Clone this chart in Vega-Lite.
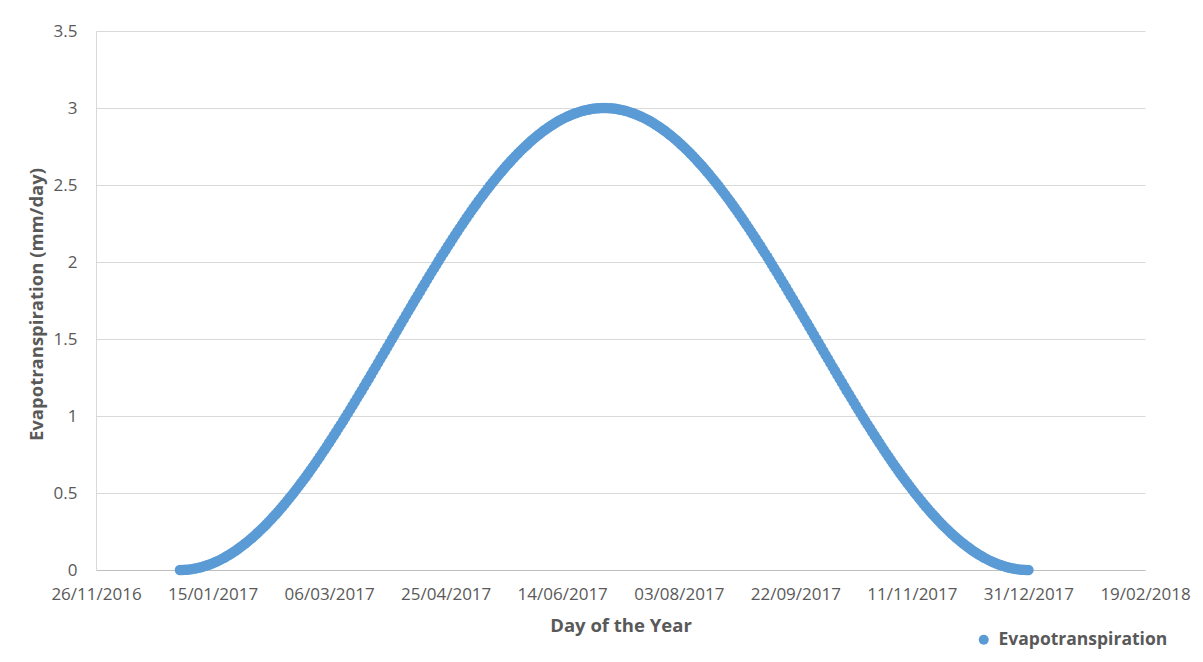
{
  "$schema": "https://vega.github.io/schema/vega-lite/v6.json",
  "width": 1049,
  "height": 539,
  "autosize": "none",
  "padding": {"left": 96, "top": 31, "right": 58, "bottom": 92},
  "background": "#FFFFFF",
  "config": {
    "view": {"stroke": null},
    "font": "Open Sans",
    "axis": {
      "labelFont": "Open Sans",
      "labelFontSize": 17,
      "labelColor": "#595959",
      "titleFont": "Open Sans",
      "titleFontSize": 18.5,
      "titleFontWeight": "bold",
      "titleColor": "#595959",
      "ticks": false,
      "tickSize": 0
    },
    "legend": {
      "labelFont": "Open Sans",
      "labelFontSize": 17.5,
      "labelFontWeight": "bold",
      "labelColor": "#595959",
      "labelLimit": 0
    }
  },
  "data": {
    "values": [
      {"date": "2017-01-01", "et": 0},
      {"date": "2017-01-03", "et": 0.001},
      {"date": "2017-01-05", "et": 0.004},
      {"date": "2017-01-07", "et": 0.008},
      {"date": "2017-01-09", "et": 0.014},
      {"date": "2017-01-11", "et": 0.022},
      {"date": "2017-01-13", "et": 0.032},
      {"date": "2017-01-15", "et": 0.044},
      {"date": "2017-01-17", "et": 0.057},
      {"date": "2017-01-19", "et": 0.072},
      {"date": "2017-01-21", "et": 0.089},
      {"date": "2017-01-23", "et": 0.107},
      {"date": "2017-01-25", "et": 0.127},
      {"date": "2017-01-27", "et": 0.149},
      {"date": "2017-01-29", "et": 0.172},
      {"date": "2017-01-31", "et": 0.197},
      {"date": "2017-02-02", "et": 0.223},
      {"date": "2017-02-04", "et": 0.251},
      {"date": "2017-02-06", "et": 0.280},
      {"date": "2017-02-08", "et": 0.311},
      {"date": "2017-02-10", "et": 0.344},
      {"date": "2017-02-12", "et": 0.377},
      {"date": "2017-02-14", "et": 0.412},
      {"date": "2017-02-16", "et": 0.449},
      {"date": "2017-02-18", "et": 0.486},
      {"date": "2017-02-20", "et": 0.525},
      {"date": "2017-02-22", "et": 0.565},
      {"date": "2017-02-24", "et": 0.606},
      {"date": "2017-02-26", "et": 0.648},
      {"date": "2017-02-28", "et": 0.691},
      {"date": "2017-03-02", "et": 0.735},
      {"date": "2017-03-04", "et": 0.780},
      {"date": "2017-03-06", "et": 0.826},
      {"date": "2017-03-08", "et": 0.873},
      {"date": "2017-03-10", "et": 0.920},
      {"date": "2017-03-12", "et": 0.968},
      {"date": "2017-03-14", "et": 1.017},
      {"date": "2017-03-16", "et": 1.066},
      {"date": "2017-03-18", "et": 1.116},
      {"date": "2017-03-20", "et": 1.166},
      {"date": "2017-03-22", "et": 1.217},
      {"date": "2017-03-24", "et": 1.268},
      {"date": "2017-03-26", "et": 1.319},
      {"date": "2017-03-28", "et": 1.371},
      {"date": "2017-03-30", "et": 1.422},
      {"date": "2017-04-01", "et": 1.474},
      {"date": "2017-04-03", "et": 1.526},
      {"date": "2017-04-05", "et": 1.578},
      {"date": "2017-04-07", "et": 1.629},
      {"date": "2017-04-09", "et": 1.681},
      {"date": "2017-04-11", "et": 1.732},
      {"date": "2017-04-13", "et": 1.783},
      {"date": "2017-04-15", "et": 1.834},
      {"date": "2017-04-17", "et": 1.884},
      {"date": "2017-04-19", "et": 1.934},
      {"date": "2017-04-21", "et": 1.983},
      {"date": "2017-04-23", "et": 2.032},
      {"date": "2017-04-25", "et": 2.080},
      {"date": "2017-04-27", "et": 2.127},
      {"date": "2017-04-29", "et": 2.174},
      {"date": "2017-05-01", "et": 2.220},
      {"date": "2017-05-03", "et": 2.265},
      {"date": "2017-05-05", "et": 2.309},
      {"date": "2017-05-07", "et": 2.352},
      {"date": "2017-05-09", "et": 2.394},
      {"date": "2017-05-11", "et": 2.435},
      {"date": "2017-05-13", "et": 2.475},
      {"date": "2017-05-15", "et": 2.514},
      {"date": "2017-05-17", "et": 2.551},
      {"date": "2017-05-19", "et": 2.588},
      {"date": "2017-05-21", "et": 2.623},
      {"date": "2017-05-23", "et": 2.656},
      {"date": "2017-05-25", "et": 2.689},
      {"date": "2017-05-27", "et": 2.720},
      {"date": "2017-05-29", "et": 2.749},
      {"date": "2017-05-31", "et": 2.777},
      {"date": "2017-06-02", "et": 2.803},
      {"date": "2017-06-04", "et": 2.828},
      {"date": "2017-06-06", "et": 2.852},
      {"date": "2017-06-08", "et": 2.873},
      {"date": "2017-06-10", "et": 2.893},
      {"date": "2017-06-12", "et": 2.912},
      {"date": "2017-06-14", "et": 2.928},
      {"date": "2017-06-16", "et": 2.943},
      {"date": "2017-06-18", "et": 2.956},
      {"date": "2017-06-20", "et": 2.968},
      {"date": "2017-06-22", "et": 2.978},
      {"date": "2017-06-24", "et": 2.986},
      {"date": "2017-06-26", "et": 2.992},
      {"date": "2017-06-28", "et": 2.996},
      {"date": "2017-06-30", "et": 2.999},
      {"date": "2017-07-02", "et": 3.000},
      {"date": "2017-07-04", "et": 2.999},
      {"date": "2017-07-06", "et": 2.996},
      {"date": "2017-07-08", "et": 2.992},
      {"date": "2017-07-10", "et": 2.986},
      {"date": "2017-07-12", "et": 2.978},
      {"date": "2017-07-14", "et": 2.968},
      {"date": "2017-07-16", "et": 2.956},
      {"date": "2017-07-18", "et": 2.943},
      {"date": "2017-07-20", "et": 2.928},
      {"date": "2017-07-22", "et": 2.912},
      {"date": "2017-07-24", "et": 2.893},
      {"date": "2017-07-26", "et": 2.873},
      {"date": "2017-07-28", "et": 2.852},
      {"date": "2017-07-30", "et": 2.828},
      {"date": "2017-08-01", "et": 2.803},
      {"date": "2017-08-03", "et": 2.777},
      {"date": "2017-08-05", "et": 2.749},
      {"date": "2017-08-07", "et": 2.720},
      {"date": "2017-08-09", "et": 2.689},
      {"date": "2017-08-11", "et": 2.656},
      {"date": "2017-08-13", "et": 2.623},
      {"date": "2017-08-15", "et": 2.588},
      {"date": "2017-08-17", "et": 2.551},
      {"date": "2017-08-19", "et": 2.514},
      {"date": "2017-08-21", "et": 2.475},
      {"date": "2017-08-23", "et": 2.435},
      {"date": "2017-08-25", "et": 2.394},
      {"date": "2017-08-27", "et": 2.352},
      {"date": "2017-08-29", "et": 2.309},
      {"date": "2017-08-31", "et": 2.265},
      {"date": "2017-09-02", "et": 2.220},
      {"date": "2017-09-04", "et": 2.174},
      {"date": "2017-09-06", "et": 2.127},
      {"date": "2017-09-08", "et": 2.080},
      {"date": "2017-09-10", "et": 2.032},
      {"date": "2017-09-12", "et": 1.983},
      {"date": "2017-09-14", "et": 1.934},
      {"date": "2017-09-16", "et": 1.884},
      {"date": "2017-09-18", "et": 1.834},
      {"date": "2017-09-20", "et": 1.783},
      {"date": "2017-09-22", "et": 1.732},
      {"date": "2017-09-24", "et": 1.681},
      {"date": "2017-09-26", "et": 1.629},
      {"date": "2017-09-28", "et": 1.578},
      {"date": "2017-09-30", "et": 1.526},
      {"date": "2017-10-02", "et": 1.474},
      {"date": "2017-10-04", "et": 1.422},
      {"date": "2017-10-06", "et": 1.371},
      {"date": "2017-10-08", "et": 1.319},
      {"date": "2017-10-10", "et": 1.268},
      {"date": "2017-10-12", "et": 1.217},
      {"date": "2017-10-14", "et": 1.166},
      {"date": "2017-10-16", "et": 1.116},
      {"date": "2017-10-18", "et": 1.066},
      {"date": "2017-10-20", "et": 1.017},
      {"date": "2017-10-22", "et": 0.968},
      {"date": "2017-10-24", "et": 0.920},
      {"date": "2017-10-26", "et": 0.873},
      {"date": "2017-10-28", "et": 0.826},
      {"date": "2017-10-30", "et": 0.780},
      {"date": "2017-11-01", "et": 0.735},
      {"date": "2017-11-03", "et": 0.691},
      {"date": "2017-11-05", "et": 0.648},
      {"date": "2017-11-07", "et": 0.606},
      {"date": "2017-11-09", "et": 0.565},
      {"date": "2017-11-11", "et": 0.525},
      {"date": "2017-11-13", "et": 0.486},
      {"date": "2017-11-15", "et": 0.449},
      {"date": "2017-11-17", "et": 0.412},
      {"date": "2017-11-19", "et": 0.377},
      {"date": "2017-11-21", "et": 0.344},
      {"date": "2017-11-23", "et": 0.311},
      {"date": "2017-11-25", "et": 0.280},
      {"date": "2017-11-27", "et": 0.251},
      {"date": "2017-11-29", "et": 0.223},
      {"date": "2017-12-01", "et": 0.197},
      {"date": "2017-12-03", "et": 0.172},
      {"date": "2017-12-05", "et": 0.149},
      {"date": "2017-12-07", "et": 0.127},
      {"date": "2017-12-09", "et": 0.107},
      {"date": "2017-12-11", "et": 0.089},
      {"date": "2017-12-13", "et": 0.072},
      {"date": "2017-12-15", "et": 0.057},
      {"date": "2017-12-17", "et": 0.044},
      {"date": "2017-12-19", "et": 0.032},
      {"date": "2017-12-21", "et": 0.022},
      {"date": "2017-12-23", "et": 0.014},
      {"date": "2017-12-25", "et": 0.008},
      {"date": "2017-12-27", "et": 0.004},
      {"date": "2017-12-29", "et": 0.001},
      {"date": "2017-12-31", "et": 0},
      {"date": "2017-01-02", "et": 0.0002},
      {"date": "2017-01-04", "et": 0.0020},
      {"date": "2017-01-06", "et": 0.0056},
      {"date": "2017-01-08", "et": 0.0109},
      {"date": "2017-01-10", "et": 0.0181},
      {"date": "2017-01-12", "et": 0.0270},
      {"date": "2017-01-14", "et": 0.0376},
      {"date": "2017-01-16", "et": 0.0500},
      {"date": "2017-01-18", "et": 0.0641},
      {"date": "2017-01-20", "et": 0.0800},
      {"date": "2017-01-22", "et": 0.0975},
      {"date": "2017-01-24", "et": 0.1167},
      {"date": "2017-01-26", "et": 0.1375},
      {"date": "2017-01-28", "et": 0.1600},
      {"date": "2017-01-30", "et": 0.1841},
      {"date": "2017-02-01", "et": 0.2097},
      {"date": "2017-02-03", "et": 0.2369},
      {"date": "2017-02-05", "et": 0.2655},
      {"date": "2017-02-07", "et": 0.2957},
      {"date": "2017-02-09", "et": 0.3273},
      {"date": "2017-02-11", "et": 0.3602},
      {"date": "2017-02-13", "et": 0.3946},
      {"date": "2017-02-15", "et": 0.4302},
      {"date": "2017-02-17", "et": 0.4672},
      {"date": "2017-02-19", "et": 0.5053},
      {"date": "2017-02-21", "et": 0.5447},
      {"date": "2017-02-23", "et": 0.5852},
      {"date": "2017-02-25", "et": 0.6267},
      {"date": "2017-02-27", "et": 0.6693},
      {"date": "2017-03-01", "et": 0.7130},
      {"date": "2017-03-03", "et": 0.7575},
      {"date": "2017-03-05", "et": 0.8029},
      {"date": "2017-03-07", "et": 0.8492},
      {"date": "2017-03-09", "et": 0.8962},
      {"date": "2017-03-11", "et": 0.9440},
      {"date": "2017-03-13", "et": 0.9924},
      {"date": "2017-03-15", "et": 1.0414},
      {"date": "2017-03-17", "et": 1.0910},
      {"date": "2017-03-19", "et": 1.1410},
      {"date": "2017-03-21", "et": 1.1915},
      {"date": "2017-03-23", "et": 1.2424},
      {"date": "2017-03-25", "et": 1.2935},
      {"date": "2017-03-27", "et": 1.3449},
      {"date": "2017-03-29", "et": 1.3965},
      {"date": "2017-03-31", "et": 1.4482},
      {"date": "2017-04-02", "et": 1.5000},
      {"date": "2017-04-04", "et": 1.5518},
      {"date": "2017-04-06", "et": 1.6035},
      {"date": "2017-04-08", "et": 1.6551},
      {"date": "2017-04-10", "et": 1.7065},
      {"date": "2017-04-12", "et": 1.7576},
      {"date": "2017-04-14", "et": 1.8085},
      {"date": "2017-04-16", "et": 1.8590},
      {"date": "2017-04-18", "et": 1.9090},
      {"date": "2017-04-20", "et": 1.9586},
      {"date": "2017-04-22", "et": 2.0076},
      {"date": "2017-04-24", "et": 2.0560},
      {"date": "2017-04-26", "et": 2.1038},
      {"date": "2017-04-28", "et": 2.1508},
      {"date": "2017-04-30", "et": 2.1971},
      {"date": "2017-05-02", "et": 2.2425},
      {"date": "2017-05-04", "et": 2.2870},
      {"date": "2017-05-06", "et": 2.3307},
      {"date": "2017-05-08", "et": 2.3733},
      {"date": "2017-05-10", "et": 2.4148},
      {"date": "2017-05-12", "et": 2.4553},
      {"date": "2017-05-14", "et": 2.4947},
      {"date": "2017-05-16", "et": 2.5328},
      {"date": "2017-05-18", "et": 2.5698},
      {"date": "2017-05-20", "et": 2.6054},
      {"date": "2017-05-22", "et": 2.6398},
      {"date": "2017-05-24", "et": 2.6727},
      {"date": "2017-05-26", "et": 2.7043},
      {"date": "2017-05-28", "et": 2.7345},
      {"date": "2017-05-30", "et": 2.7631},
      {"date": "2017-06-01", "et": 2.7903},
      {"date": "2017-06-03", "et": 2.8159},
      {"date": "2017-06-05", "et": 2.8400},
      {"date": "2017-06-07", "et": 2.8625},
      {"date": "2017-06-09", "et": 2.8833},
      {"date": "2017-06-11", "et": 2.9025},
      {"date": "2017-06-13", "et": 2.9200},
      {"date": "2017-06-15", "et": 2.9359},
      {"date": "2017-06-17", "et": 2.9500},
      {"date": "2017-06-19", "et": 2.9624},
      {"date": "2017-06-21", "et": 2.9730},
      {"date": "2017-06-23", "et": 2.9819},
      {"date": "2017-06-25", "et": 2.9891},
      {"date": "2017-06-27", "et": 2.9944},
      {"date": "2017-06-29", "et": 2.9980},
      {"date": "2017-07-01", "et": 2.9998},
      {"date": "2017-07-03", "et": 2.9998},
      {"date": "2017-07-05", "et": 2.9980},
      {"date": "2017-07-07", "et": 2.9944},
      {"date": "2017-07-09", "et": 2.9891},
      {"date": "2017-07-11", "et": 2.9819},
      {"date": "2017-07-13", "et": 2.9730},
      {"date": "2017-07-15", "et": 2.9624},
      {"date": "2017-07-17", "et": 2.9500},
      {"date": "2017-07-19", "et": 2.9359},
      {"date": "2017-07-21", "et": 2.9200},
      {"date": "2017-07-23", "et": 2.9025},
      {"date": "2017-07-25", "et": 2.8833},
      {"date": "2017-07-27", "et": 2.8625},
      {"date": "2017-07-29", "et": 2.8400},
      {"date": "2017-07-31", "et": 2.8159},
      {"date": "2017-08-02", "et": 2.7903},
      {"date": "2017-08-04", "et": 2.7631},
      {"date": "2017-08-06", "et": 2.7345},
      {"date": "2017-08-08", "et": 2.7043},
      {"date": "2017-08-10", "et": 2.6727},
      {"date": "2017-08-12", "et": 2.6398},
      {"date": "2017-08-14", "et": 2.6054},
      {"date": "2017-08-16", "et": 2.5698},
      {"date": "2017-08-18", "et": 2.5328},
      {"date": "2017-08-20", "et": 2.4947},
      {"date": "2017-08-22", "et": 2.4553},
      {"date": "2017-08-24", "et": 2.4148},
      {"date": "2017-08-26", "et": 2.3733},
      {"date": "2017-08-28", "et": 2.3307},
      {"date": "2017-08-30", "et": 2.2870},
      {"date": "2017-09-01", "et": 2.2425},
      {"date": "2017-09-03", "et": 2.1971},
      {"date": "2017-09-05", "et": 2.1508},
      {"date": "2017-09-07", "et": 2.1038},
      {"date": "2017-09-09", "et": 2.0560},
      {"date": "2017-09-11", "et": 2.0076},
      {"date": "2017-09-13", "et": 1.9586},
      {"date": "2017-09-15", "et": 1.9090},
      {"date": "2017-09-17", "et": 1.8590},
      {"date": "2017-09-19", "et": 1.8085},
      {"date": "2017-09-21", "et": 1.7576},
      {"date": "2017-09-23", "et": 1.7065},
      {"date": "2017-09-25", "et": 1.6551},
      {"date": "2017-09-27", "et": 1.6035},
      {"date": "2017-09-29", "et": 1.5518},
      {"date": "2017-10-01", "et": 1.5000},
      {"date": "2017-10-03", "et": 1.4482},
      {"date": "2017-10-05", "et": 1.3965},
      {"date": "2017-10-07", "et": 1.3449},
      {"date": "2017-10-09", "et": 1.2935},
      {"date": "2017-10-11", "et": 1.2424},
      {"date": "2017-10-13", "et": 1.1915},
      {"date": "2017-10-15", "et": 1.1410},
      {"date": "2017-10-17", "et": 1.0910},
      {"date": "2017-10-19", "et": 1.0414},
      {"date": "2017-10-21", "et": 0.9924},
      {"date": "2017-10-23", "et": 0.9440},
      {"date": "2017-10-25", "et": 0.8962},
      {"date": "2017-10-27", "et": 0.8492},
      {"date": "2017-10-29", "et": 0.8029},
      {"date": "2017-10-31", "et": 0.7575},
      {"date": "2017-11-02", "et": 0.7130},
      {"date": "2017-11-04", "et": 0.6693},
      {"date": "2017-11-06", "et": 0.6267},
      {"date": "2017-11-08", "et": 0.5852},
      {"date": "2017-11-10", "et": 0.5447},
      {"date": "2017-11-12", "et": 0.5053},
      {"date": "2017-11-14", "et": 0.4672},
      {"date": "2017-11-16", "et": 0.4302},
      {"date": "2017-11-18", "et": 0.3946},
      {"date": "2017-11-20", "et": 0.3602},
      {"date": "2017-11-22", "et": 0.3273},
      {"date": "2017-11-24", "et": 0.2957},
      {"date": "2017-11-26", "et": 0.2655},
      {"date": "2017-11-28", "et": 0.2369},
      {"date": "2017-11-30", "et": 0.2097},
      {"date": "2017-12-02", "et": 0.1841},
      {"date": "2017-12-04", "et": 0.1600},
      {"date": "2017-12-06", "et": 0.1375},
      {"date": "2017-12-08", "et": 0.1167},
      {"date": "2017-12-10", "et": 0.0975},
      {"date": "2017-12-12", "et": 0.0800},
      {"date": "2017-12-14", "et": 0.0641},
      {"date": "2017-12-16", "et": 0.0500},
      {"date": "2017-12-18", "et": 0.0376},
      {"date": "2017-12-20", "et": 0.0270},
      {"date": "2017-12-22", "et": 0.0181},
      {"date": "2017-12-24", "et": 0.0109},
      {"date": "2017-12-26", "et": 0.0056},
      {"date": "2017-12-28", "et": 0.0020},
      {"date": "2017-12-30", "et": 0.0002}
    ]
  },
  "mark": {"type": "point", "filled": true, "size": 110, "opacity": 1, "shape": "circle"},
  "encoding": {
    "x": {
      "field": "date",
      "type": "temporal",
      "title": "Day of the Year",
      "scale": {
        "type": "utc",
        "domain": [
          {"year": 2016, "month": 11, "date": 26, "utc": true},
          {"year": 2018, "month": 2, "date": 19, "utc": true}
        ]
      },
      "axis": {
        "format": "%d/%m/%Y",
        "values": [
          {"year": 2016, "month": 11, "date": 26, "utc": true},
          {"year": 2017, "month": 1, "date": 15, "utc": true},
          {"year": 2017, "month": 3, "date": 6, "utc": true},
          {"year": 2017, "month": 4, "date": 25, "utc": true},
          {"year": 2017, "month": 6, "date": 14, "utc": true},
          {"year": 2017, "month": 8, "date": 3, "utc": true},
          {"year": 2017, "month": 9, "date": 22, "utc": true},
          {"year": 2017, "month": 11, "date": 11, "utc": true},
          {"year": 2017, "month": 12, "date": 31, "utc": true},
          {"year": 2018, "month": 2, "date": 19, "utc": true}
        ],
        "grid": false,
        "domain": true,
        "domainColor": "#BFBFBF",
        "domainWidth": 1,
        "labelPadding": 16,
        "labelFlush": false,
        "labelOverlap": false,
        "titleY": 46,
        "titleBaseline": "top"
      }
    },
    "y": {
      "field": "et",
      "type": "quantitative",
      "title": "Evapotranspiration (mm/day)",
      "scale": {"domain": [0, 3.5], "nice": false},
      "axis": {
        "values": [0, 0.5, 1, 1.5, 2, 2.5, 3, 3.5],
        "format": "~g",
        "grid": true,
        "gridColor": "#D9D9D9",
        "gridWidth": 1,
        "domain": true,
        "domainColor": "#D9D9D9",
        "labelPadding": 19,
        "labelFlush": false,
        "labelOverlap": false,
        "titleX": -50,
        "titleY": 273
      }
    },
    "color": {
      "datum": "Evapotranspiration",
      "type": "nominal",
      "scale": {"range": ["#5B9BD5"]},
      "legend": {
        "title": null,
        "orient": "none",
        "legendX": 879,
        "legendY": 600,
        "padding": 0,
        "symbolType": "circle",
        "symbolSize": 100,
        "labelOffset": 6
      }
    }
  }
}
